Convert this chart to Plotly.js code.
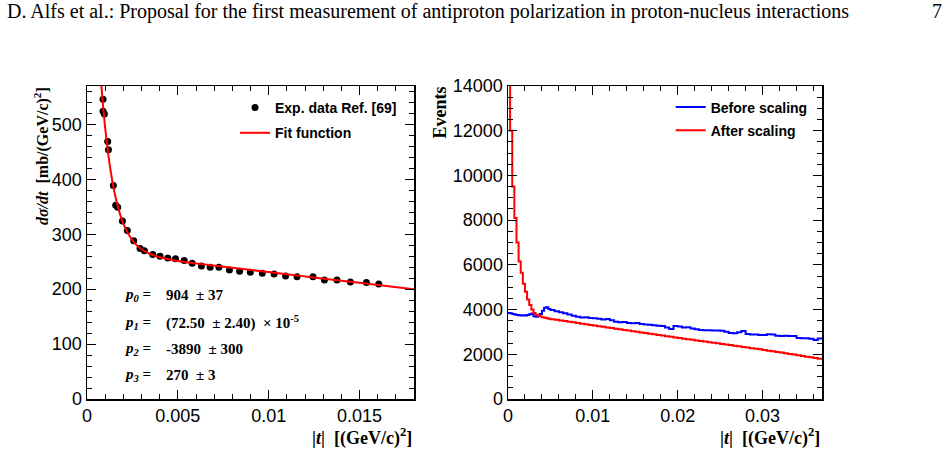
<!DOCTYPE html>
<html>
<head>
<meta charset="utf-8">
<script src="https://cdn.plot.ly/plotly-3.0.1.min.js"></script>
<style>
  html, body { margin: 0; padding: 0; background: #fff; }
  #chart { width: 951px; height: 453px; }
</style>
</head>
<body>
<div id="chart"></div>
<script>
// ---------------- Data ----------------
// Left panel: experimental d(sigma)/dt points
const expT = [0.000882, 0.000882, 0.000955, 0.00114, 0.00118, 0.00145, 0.00158, 0.00169, 0.00195, 0.00222,
              0.00257, 0.00292, 0.00316, 0.00362, 0.00402, 0.00445, 0.00487, 0.00535, 0.00579, 0.0063,
              0.00678, 0.00726, 0.00784, 0.0084, 0.00899, 0.00965, 0.0103, 0.01093, 0.01156, 0.01244,
              0.01307, 0.01376, 0.0145, 0.01538, 0.01606];
const expV = [546, 524, 519, 469, 454, 389, 353, 349, 324, 307,
              288, 274, 270, 263, 260, 257, 255.6, 252, 247, 242,
              240, 240, 235, 232.5, 231, 229, 227.7, 224, 222.8, 222.8,
              216.8, 216.8, 213, 212, 209.5];
// Left panel: fit curve
const fitT = [0.00077, 0.0008, 0.0009, 0.001, 0.0012, 0.0014, 0.0016, 0.0018, 0.002, 0.0023, 0.0026,
              0.003, 0.0035, 0.004, 0.005, 0.006, 0.008, 0.01, 0.012, 0.014, 0.016, 0.018];
const fitV = [579.5, 566.8, 527.8, 493.7, 438.0, 395.7, 363.3, 338.5, 319.5, 299.0, 284.9,
              272.7, 263.6, 258.0, 251.4, 247.0, 238.9, 231.1, 223.3, 215.5, 207.8, 200.0];
const fitParams = [
  {label: "0", value: "904\u00a0\u00a0\u00b1 37"},
  {label: "1", value: "(72.50\u00a0\u00a0\u00b1 2.40)\u00a0\u00a0\u00d7 10<sup>-5</sup>"},
  {label: "2", value: "-3890\u00a0\u00a0\u00b1 300"},
  {label: "3", value: "270\u00a0\u00a0\u00b1 3"}
];

// Right panel: histograms. Fine bins (width 0.00025) up to 0.005, then bins of width 0.0005 up to 0.037
const fineBinWidth = 0.00025, fineBinCount = 20;
const coarseBinWidth = 0.0005, coarseBinCount = 64, coarseStart = 0.005, histEnd = 0.037;
const beforeFine = [3850, 3830, 3800, 3780, 3760, 3750, 3740, 3750, 3740, 3760,
                    3790, 3820, 3700, 3680, 3720, 3800, 3950, 4080, 4100, 4030];
const beforeCoarse = [3980, 3930, 3880, 3840, 3780, 3720, 3680, 3650, 3660, 3620,
                      3610, 3590, 3560, 3580, 3520, 3460, 3430, 3440, 3400, 3390,
                      3400, 3360, 3330, 3320, 3300, 3280, 3260, 3200, 3130, 3260,
                      3240, 3200, 3210, 3150,
                      3120, 3090, 3080, 3070, 3060, 3060, 3055, 3010, 2950, 2940,
                      2990, 3040, 2910, 2890, 2880, 2865, 2860, 2900, 2890, 2830,
                      2820, 2825, 2820, 2815, 2730, 2720, 2715, 2690, 2640, 2710];
const afterFine = [17000, 12000, 9500, 8100, 7000, 6150, 5650, 5150, 4800, 4450,
                   4200, 4000, 3850, 3770, 3720, 3690, 3660, 3630, 3610, 3590];
const afterCoarse = [3565, 3540, 3510, 3485, 3455, 3430, 3400, 3370, 3345, 3315,
                     3285, 3255, 3230, 3200, 3175, 3145, 3115, 3090, 3060, 3035,
                     3005, 2975, 2950, 2920, 2895, 2865, 2840, 2810, 2785, 2755,
                     2730, 2700, 2675, 2650, 2620, 2595, 2570, 2540, 2515, 2490,
                     2460, 2435, 2410, 2380, 2355, 2330, 2300, 2275, 2245, 2220,
                     2190, 2160, 2135, 2105, 2075, 2045, 2015, 1985, 1955, 1925,
                     1895, 1865, 1835, 1805];

// Tick labels
const leftXTicks = [0, 0.005, 0.01, 0.015];
const leftXTickText = ["0", "0.005", "0.01", "0.015"];
const leftYTicks = [0, 100, 200, 300, 400, 500];
const leftYTickText = ["0", "100", "200", "300", "400", "500"];
const rightXTicks = [0, 0.01, 0.02, 0.03];
const rightXTickText = ["0", "0.01", "0.02", "0.03"];
const rightYTicks = [0, 2000, 4000, 6000, 8000, 10000, 12000, 14000];
const rightYTickText = ["0", "2000", "4000", "6000", "8000", "10000", "12000", "14000"];

// ---------------- Build histogram step outlines ----------------
const binEdges = [];
for (let i = 0; i < fineBinCount; i++) binEdges.push(+(i * fineBinWidth).toFixed(6));
for (let j = 0; j < coarseBinCount; j++) binEdges.push(+(coarseStart + j * coarseBinWidth).toFixed(6));
binEdges.push(histEnd);
function stepY(fine, coarse) {
  const v = fine.concat(coarse);
  v.push(v[v.length - 1]);
  return v;
}

// ---------------- Traces ----------------
const traces = [
  {x: expT, y: expV, mode: 'markers', type: 'scatter', name: 'Exp. data Ref. [69]',
   marker: {color: 'black', size: 7}, xaxis: 'x', yaxis: 'y', legend: 'legend', legendgroup: 'a'},
  {x: fitT, y: fitV, mode: 'lines', type: 'scatter', name: 'Fit function',
   line: {color: '#ff0000', width: 2, shape: 'spline'}, xaxis: 'x', yaxis: 'y', legend: 'legend', legendgroup: 'b'},
  {x: binEdges, y: stepY(beforeFine, beforeCoarse), mode: 'lines', type: 'scatter', name: 'Before scaling',
   line: {color: '#0000ff', width: 2, shape: 'hv'}, xaxis: 'x2', yaxis: 'y2', legend: 'legend2', legendgroup: 'c'},
  {x: binEdges, y: stepY(afterFine, afterCoarse), mode: 'lines', type: 'scatter', name: 'After scaling',
   line: {color: '#ff0000', width: 2, shape: 'hv'}, xaxis: 'x2', yaxis: 'y2', legend: 'legend2', legendgroup: 'd'}
];

// ---------------- Layout ----------------
const W = 951, H = 453;
const px = v => v / W;
const py = v => 1 - v / H;
const tickFont = {family: 'Liberation Sans, Arial, sans-serif', size: 18, color: 'black'};
function axisBase(extra) {
  return Object.assign({
    showline: true, linecolor: 'black', linewidth: 1.5, mirror: 'allticks',
    ticks: 'inside', ticklen: 9, tickwidth: 1, tickcolor: 'black',
    showgrid: false, zeroline: false, tickfont: tickFont, fixedrange: true
  }, extra);
}
const serif = 'Liberation Serif, Times New Roman, serif';
const annotations = [
  {text: 'D. Alfs et al.: Proposal for the first measurement of antiproton polarization in proton-nucleus interactions',
   xref: 'paper', yref: 'paper', x: px(5), y: py(11), xanchor: 'left', yanchor: 'middle', showarrow: false,
   font: {family: serif, size: 20, color: 'black'}},
  {text: '7', xref: 'paper', yref: 'paper', x: px(937), y: py(11), xanchor: 'center', yanchor: 'middle', showarrow: false,
   font: {family: serif, size: 20, color: 'black'}},
  {text: '<b><i>d\u03c3/dt</i>\u00a0\u00a0[mb/(GeV/c)<sup>2</sup>]</b>', xref: 'paper', yref: 'paper',
   x: px(41), y: py(156), xanchor: 'center', yanchor: 'middle', textangle: -90, showarrow: false,
   font: {family: serif, size: 16, color: 'black'}},
  {text: '<b>|<i>t</i>|\u00a0\u00a0[(GeV/c)<sup>2</sup>]</b>', xref: 'paper', yref: 'paper',
   x: px(414), y: py(437), xanchor: 'right', yanchor: 'middle', showarrow: false,
   font: {family: serif, size: 18, color: 'black'}},
  {text: '<b>Events</b>', xref: 'paper', yref: 'paper',
   x: px(439), y: py(112.5), xanchor: 'center', yanchor: 'middle', textangle: -90, showarrow: false,
   font: {family: serif, size: 18, color: 'black'}},
  {text: '<b>|<i>t</i>|\u00a0\u00a0[(GeV/c)<sup>2</sup>]</b>', xref: 'paper', yref: 'paper',
   x: px(822), y: py(437), xanchor: 'right', yanchor: 'middle', showarrow: false,
   font: {family: serif, size: 18, color: 'black'}}
];
const rowY = [295, 322.7, 349.3, 375];
fitParams.forEach((p, i) => {
  annotations.push({text: '<b><i>p</i><sub><i>' + p.label + '</i></sub> =</b>', xref: 'paper', yref: 'paper',
    x: px(121.7), y: py(rowY[i]), xanchor: 'left', yanchor: 'middle', showarrow: false,
    font: {family: serif, size: 15, color: 'black'}});
  annotations.push({text: '<b>' + p.value + '</b>', xref: 'paper', yref: 'paper',
    x: px(164), y: py(rowY[i]), xanchor: 'left', yanchor: 'middle', showarrow: false,
    font: {family: serif, size: 15, color: 'black'}});
});

const legendFont = {family: 'Liberation Sans, Arial, sans-serif', size: 14, color: 'black', weight: 'bold'};
const layout = {
  width: W, height: H,
  margin: {l: 0, r: 0, t: 0, b: 0},
  paper_bgcolor: 'white', plot_bgcolor: 'white',
  showlegend: true,
  xaxis: axisBase({domain: [px(87), px(414)], range: [0, 0.018], tickvals: leftXTicks, ticktext: leftXTickText,
    anchor: 'y', minor: {dtick: 0.001, ticklen: 5, ticks: 'inside', tickcolor: 'black', showgrid: false}}),
  yaxis: axisBase({domain: [1 - 399 / H, 1 - 86 / H], range: [0, 570], tickvals: leftYTicks, ticktext: leftYTickText,
    anchor: 'x', minor: {dtick: 20, ticklen: 5, ticks: 'inside', tickcolor: 'black', showgrid: false}}),
  xaxis2: axisBase({domain: [px(508), px(822)], range: [0, 0.037], tickvals: rightXTicks, ticktext: rightXTickText,
    anchor: 'y2', minor: {dtick: 0.002, ticklen: 5, ticks: 'inside', tickcolor: 'black', showgrid: false}}),
  yaxis2: axisBase({domain: [1 - 399 / H, 1 - 86 / H], range: [0, 14000], tickvals: rightYTicks, ticktext: rightYTickText,
    anchor: 'x2', minor: {dtick: 500, ticklen: 5, ticks: 'inside', tickcolor: 'black', showgrid: false}}),
  legend: {x: px(235), y: py(92), xanchor: 'left', yanchor: 'top', bgcolor: 'rgba(0,0,0,0)',
    font: legendFont, tracegroupgap: 4, borderwidth: 0},
  legend2: {x: px(670.7), y: py(91.5), xanchor: 'left', yanchor: 'top', bgcolor: 'rgba(0,0,0,0)',
    font: legendFont, tracegroupgap: 2, borderwidth: 0},
  annotations: annotations
};

Plotly.newPlot('chart', traces, layout, {displayModeBar: false, staticPlot: true});
</script>
</body>
</html>
